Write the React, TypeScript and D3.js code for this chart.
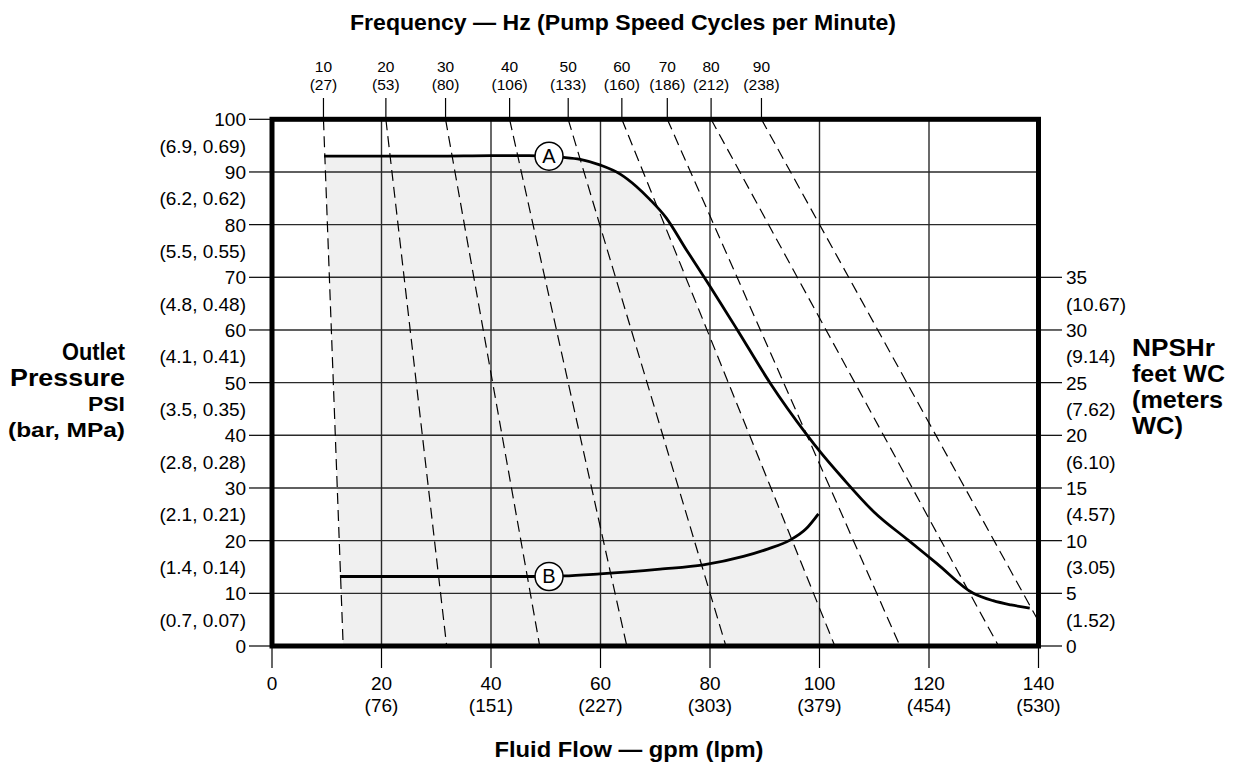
import React from "react";
import * as d3 from "d3";

// ---------- data ----------
const flowTicks = [0, 20, 40, 60, 80, 100, 120, 140];
const flowLpm = ["", "(76)", "(151)", "(227)", "(303)", "(379)", "(454)", "(530)"];

const psiTicks = [0, 10, 20, 30, 40, 50, 60, 70, 80, 90, 100];
const psiMetric = ["(0.7, 0.07)", "(1.4, 0.14)", "(2.1, 0.21)", "(2.8, 0.28)", "(3.5, 0.35)", "(4.1, 0.41)", "(4.8, 0.48)", "(5.5, 0.55)", "(6.2, 0.62)", "(6.9, 0.69)"];

const npshTicks = [0, 5, 10, 15, 20, 25, 30, 35];
const npshMeters = ["", "(1.52)", "(3.05)", "(4.57)", "(6.10)", "(7.62)", "(9.14)", "(10.67)"];

const freqHz = [10, 20, 30, 40, 50, 60, 70, 80, 90];
const freqCpm = [27, 53, 80, 106, 133, 160, 186, 212, 238];
// gpm where each speed line meets 100 psi (top) and 0 psi (bottom)
const freqTopGpm = [9.4, 20.8, 31.7, 43.4, 54.1, 63.9, 72.2, 80.2, 89.4];
const freqBottomGpm = [13.0, 31.9, 48.9, 64.8, 82.9, 102.8, 114.7, 132.7, 142.5];
const shadeLeftHz = 10;
const shadeRightHz = 60;

// Curve A: outlet pressure (gpm, psi)
const curveA: [number, number][] = [
  [9.5, 93.0], [20, 93.0], [30, 93.0], [40, 93.1], [47, 93.1], [53, 92.8], [56.3, 92.4],
  [60, 91.3], [63.6, 89.6], [66.5, 87.3], [69, 84.8], [72, 81.3], [75.7, 75.2], [79.2, 69.6],
  [85, 60], [91, 49.9], [97.7, 40.1], [100.1, 36.9], [104.3, 31.8], [110, 25.4], [116.2, 20.1],
  [121.4, 15.7], [128.1, 10.0], [131.7, 8.6], [135, 7.8], [138.4, 7.2],
];
// Curve B: NPSHr plotted on the psi scale (gpm, psi-equivalent)
const curveB: [number, number][] = [
  [12.4, 13.2], [30, 13.2], [47, 13.2], [53.2, 13.3], [59.9, 13.7], [70.9, 14.6], [78.8, 15.4],
  [86.1, 17.0], [90.5, 18.4], [94.6, 20.1], [97.5, 22.2], [99.8, 25.1],
];
const markerA: [number, number] = [50.6, 93.0];
const markerB: [number, number] = [50.6, 13.2];

// ---------- layout ----------
const W = 1238, H = 769;
const x = d3.scaleLinear().domain([0, 140]).range([272, 1038.5]);
const y = d3.scaleLinear().domain([0, 100]).range([646, 119.3]);
const y2 = d3.scaleLinear().domain([0, 50]).range([646, 119.3]);
const FONT = "'Liberation Sans', Arial, Helvetica, sans-serif";

export default function App() {
  const line = d3.line<[number, number]>().x(d => x(d[0])).y(d => y(d[1])).curve(d3.curveMonotoneX);
  const areaA = d3.area<[number, number]>().x(d => x(d[0])).y0(y(0)).y1(d => y(d[1])).curve(d3.curveMonotoneX);
  const li = freqHz.indexOf(shadeLeftHz), ri = freqHz.indexOf(shadeRightHz);
  const shadeClip = [
    [x(freqTopGpm[li]), y(100)], [x(freqTopGpm[ri]), y(100)],
    [x(freqBottomGpm[ri]), y(0)], [x(freqBottomGpm[li]), y(0)],
  ].map(p => p.join(",")).join(" ");

  return (
    <svg width={W} height={H} style={{ position: "absolute", left: 0, top: 0, background: "#fff" }} fontFamily={FONT}>
      <defs>
        <clipPath id="plot"><rect x={x(0)} y={y(100)} width={x(140) - x(0)} height={y(0) - y(100)} /></clipPath>
        <clipPath id="shade"><polygon points={shadeClip} /></clipPath>
      </defs>

      {/* shaded operating region */}
      <g clipPath="url(#shade)">
        <path d={areaA(curveA) || ""} fill="#f0f0f0" />
      </g>

      {/* grid */}
      {flowTicks.slice(1, -1).map(v => (
        <line key={"gx" + v} x1={x(v)} x2={x(v)} y1={y(0)} y2={y(100)} stroke="#2a2a2a" strokeWidth={1.4} />
      ))}
      {psiTicks.slice(1, -1).map(v => (
        <line key={"gy" + v} x1={x(0)} x2={x(140)} y1={y(v)} y2={y(v)} stroke="#2a2a2a" strokeWidth={1.4} />
      ))}

      {/* speed lines */}
      <g clipPath="url(#plot)">
        {freqHz.map((hz, i) => (
          <line key={"f" + hz} x1={x(freqTopGpm[i])} y1={y(100)} x2={x(freqBottomGpm[i])} y2={y(0)}
            stroke="#000" strokeWidth={1.2} strokeDasharray="11,6" />
        ))}
      </g>

      {/* curves */}
      <path d={line(curveA) || ""} fill="none" stroke="#000" strokeWidth={2.8} />
      <path d={line(curveB) || ""} fill="none" stroke="#000" strokeWidth={2.8} />
      {[["A", markerA], ["B", markerB]].map(([t, p]: any) => (
        <g key={t}>
          <circle cx={x(p[0])} cy={y(p[1])} r={14} fill="#fff" stroke="#000" strokeWidth={1.5} />
          <text x={x(p[0])} y={y(p[1]) + 7} textAnchor="middle" fontSize={20}>{t}</text>
        </g>
      ))}

      {/* frame */}
      <rect x={x(0)} y={y(100)} width={x(140) - x(0)} height={y(0) - y(100)} fill="none" stroke="#000" strokeWidth={5} />

      {/* left axis */}
      {psiTicks.map(v => (
        <g key={"l" + v}>
          <line x1={249} x2={x(0)} y1={y(v)} y2={y(v)} stroke="#000" strokeWidth={1.2} />
          <text x={246} y={y(v) + 7} textAnchor="end" fontSize={19}>{v}</text>
        </g>
      ))}
      {psiMetric.map((t, i) => (
        <text key={"lm" + i} x={246} y={(y(psiTicks[i]) + y(psiTicks[i + 1])) / 2 + 7} textAnchor="end" fontSize={19}>{t}</text>
      ))}

      {/* right axis */}
      {npshTicks.map((v, i) => (
        <g key={"r" + v}>
          <line x1={x(140)} x2={1062} y1={y2(v)} y2={y2(v)} stroke="#000" strokeWidth={1.2} />
          <text x={1066} y={y2(v) + 7} fontSize={19}>{v}</text>
          {npshMeters[i] && <text x={1066} y={(y2(v) + y2(v - 5)) / 2 + 7} fontSize={19}>{npshMeters[i]}</text>}
        </g>
      ))}

      {/* bottom axis */}
      {flowTicks.map((v, i) => (
        <g key={"b" + v}>
          <line x1={x(v)} x2={x(v)} y1={y(0)} y2={668} stroke="#000" strokeWidth={1.2} />
          <text x={x(v)} y={690} textAnchor="middle" fontSize={19}>{v}</text>
          {flowLpm[i] && <text x={x(v)} y={712} textAnchor="middle" fontSize={19}>{flowLpm[i]}</text>}
        </g>
      ))}

      {/* top axis (frequency) */}
      {freqHz.map((hz, i) => (
        <g key={"t" + hz}>
          <line x1={x(freqTopGpm[i])} x2={x(freqTopGpm[i])} y1={98} y2={y(100)} stroke="#000" strokeWidth={1.2} />
          <text x={x(freqTopGpm[i])} y={72} textAnchor="middle" fontSize={15.5}>{hz}</text>
          <text x={x(freqTopGpm[i])} y={90} textAnchor="middle" fontSize={15.5}>({freqCpm[i]})</text>
        </g>
      ))}

      {/* titles */}
      <text x={623} y={30} textAnchor="middle" fontSize={22} fontWeight="bold" textLength={546} lengthAdjust="spacingAndGlyphs">
        Frequency — Hz (Pump Speed Cycles per Minute)
      </text>
      <text x={629} y={757} textAnchor="middle" fontSize={22} fontWeight="bold" textLength={269} lengthAdjust="spacingAndGlyphs">
        Fluid Flow — gpm (lpm)
      </text>
      <g fontWeight="bold" textAnchor="end">
        <text x={125} y={360} fontSize={24} textLength={63} lengthAdjust="spacingAndGlyphs">Outlet</text>
        <text x={125} y={386} fontSize={24} textLength={115} lengthAdjust="spacingAndGlyphs">Pressure</text>
        <text x={125} y={411} fontSize={21} textLength={37} lengthAdjust="spacingAndGlyphs">PSI</text>
        <text x={125} y={437} fontSize={21} textLength={117} lengthAdjust="spacingAndGlyphs">(bar, MPa)</text>
      </g>
      <g fontWeight="bold">
        <text x={1132} y={356} fontSize={24} textLength={83} lengthAdjust="spacingAndGlyphs">NPSHr</text>
        <text x={1132} y={382} fontSize={24} textLength={93} lengthAdjust="spacingAndGlyphs">feet WC</text>
        <text x={1132} y={408} fontSize={24} textLength={91} lengthAdjust="spacingAndGlyphs">(meters</text>
        <text x={1132} y={434} fontSize={24} textLength={51} lengthAdjust="spacingAndGlyphs">WC)</text>
      </g>
    </svg>
  );
}
